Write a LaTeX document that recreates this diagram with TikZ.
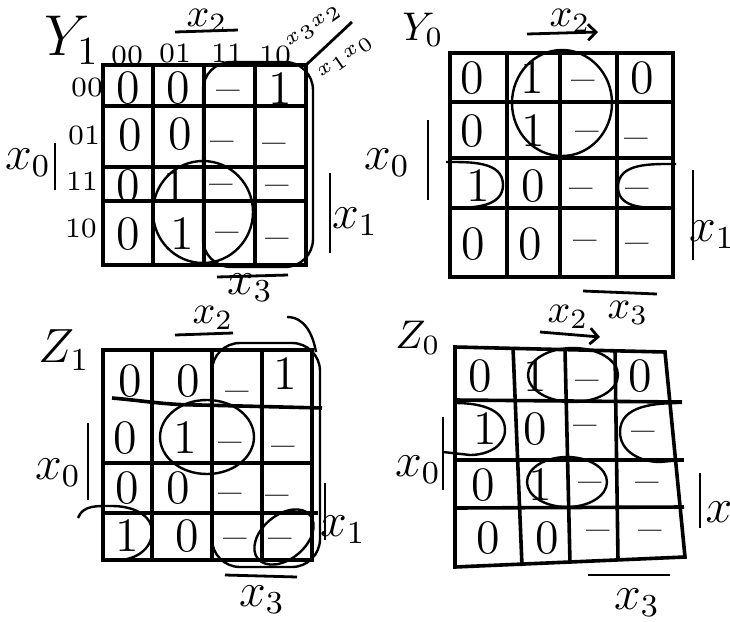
\documentclass[tikz,border=0pt]{standalone}
\usepackage{amsmath,amssymb}
\usepackage{tikz}
\usetikzlibrary{arrows.meta}

\begin{document}
\begin{tikzpicture}[x=0.25pt, y=-0.25pt,
    gridline/.style={line width=0.9pt},
    loopline/.style={line width=0.6pt},
    bar/.style={line width=0.7pt},
    entry/.style={font=\large, inner sep=0pt, text height=8pt, text depth=0pt},
    head/.style={font=\scriptsize, inner sep=0pt},
    varname/.style={font=\normalsize, inner sep=1pt}]

    \useasboundingbox (0,0) rectangle (730,622);

    % ---------------- map Y1 ----------------
    \node[varname, font=\Large] (y1name) at (72,40) {$Y_1$};

    % grid of Y1
    \draw[gridline] (103,65) rectangle (306,265);
    \draw[gridline] (153,65) -- (153,265);
    \draw[gridline] (204,65) -- (204,265);
    \draw[gridline] (255,65) -- (255,265);
    \draw[gridline] (103,106) -- (306,106);
    \draw[gridline] (103,167) -- (306,167);
    \draw[gridline] (103,201) -- (306,201);

    % column and row headers
    \node[head] (y1c0) at (127,55) {00};
    \node[head] (y1c1) at (175,53) {01};
    \node[head] (y1c2) at (227,53) {11};
    \node[head] (y1c3) at (275,55) {10};
    \node[head] (y1r0) at (87,87) {00};
    \node[head] (y1r1) at (84,135) {01};
    \node[head] (y1r2) at (82,181) {11};
    \node[head] (y1r3) at (81,228) {10};
    \draw[bar] (306,65) -- (352,22);
    \node[head, font=\tiny, rotate=35] (y1top) at (314,27) {$x_3x_2$};
    \node[head, font=\tiny, rotate=35] (y1side) at (346,58) {$x_1x_0$};

    % entries of Y1
    \node[entry] (y1e00) at (128,87) {0};
    \node[entry] (y1e01) at (178,87) {0};
    \node[entry] (y1e02) at (228,87) {--};
    \node[entry] (y1e03) at (280,88) {1};
    \node[entry] (y1e10) at (130,134) {0};
    \node[entry] (y1e11) at (180,133) {0};
    \node[entry] (y1e12) at (222,138) {--};
    \node[entry] (y1e13) at (274,140) {--};
    \node[entry] (y1e20) at (128,185) {0};
    \node[entry] (y1e21) at (175,186) {1};
    \node[entry] (y1e22) at (221,181) {--};
    \node[entry] (y1e23) at (277,182) {--};
    \node[entry] (y1e30) at (128,233) {0};
    \node[entry] (y1e31) at (182,233) {1};
    \node[entry] (y1e32) at (227,229) {--};
    \node[entry] (y1e33) at (277,235) {--};

    % loops of Y1
    \draw[loopline, rounded corners=7pt] (203,62) rectangle (313,267);
    \draw[loopline] (203,212) ellipse [x radius=50, y radius=51];

    % variables of Y1
    \node[varname] (y1x2) at (207,21) {$x_2$};
    \draw[bar] (175,32) -- (238,30);
    \node[varname, font=\large] (y1x0) at (28,163) {$x_0$};
    \draw[bar] (55,143) -- (55,190);
    \node[varname, font=\large] (y1x1) at (355,222) {$x_1$};
    \draw[bar] (330,173) -- (330,253);
    \node[varname, font=\large] (y1x3) at (250,288) {$x_3$};
    \draw[bar] (217,277) -- (288,275);

    % ---------------- map Y0 ----------------
    \node[varname] (y0name) at (423,30) {$Y_0$};

    % grid of Y0
    \draw[gridline] (450,53) rectangle (673,277);
    \draw[gridline] (507,53) -- (507,277);
    \draw[gridline] (560,53) -- (560,277);
    \draw[gridline] (617,53) -- (617,277);
    \draw[gridline] (450,102) -- (673,102);
    \draw[gridline] (450,158) -- (673,158);
    \draw[gridline] (450,208) -- (673,208);

    % entries of Y0
    \node[entry] (y0e00) at (472,77) {0};
    \node[entry] (y0e01) at (532,77) {1};
    \node[entry] (y0e02) at (583,77) {--};
    \node[entry] (y0e03) at (642,77) {0};
    \node[entry] (y0e10) at (472,130) {0};
    \node[entry] (y0e11) at (533,130) {1};
    \node[entry] (y0e12) at (587,128) {--};
    \node[entry] (y0e13) at (636,135) {--};
    \node[entry] (y0e20) at (478,185) {1};
    \node[entry] (y0e21) at (533,185) {0};
    \node[entry] (y0e22) at (581,185) {--};
    \node[entry] (y0e23) at (637,185) {--};
    \node[entry] (y0e30) at (473,243) {0};
    \node[entry] (y0e31) at (530,243) {0};
    \node[entry] (y0e32) at (585,237) {--};
    \node[entry] (y0e33) at (637,240) {--};

    % loops of Y0
    \draw[loopline] (562,103) ellipse [x radius=50, y radius=53];
    \draw[loopline] (446,162) to[out=0, in=90] (503,185) to[out=-90, in=0] (452,208);
    \draw[loopline] (676,164) to[out=180, in=90] (618,187) to[out=-90, in=180] (675,208);

    % variables of Y0
    \node[varname] (y0x2) at (570,21) {$x_2$};
    \draw[bar, -{Straight Barb[length=2pt]}] (527,34) -- (598,32);
    \node[varname, font=\large] (y0x0) at (387,163) {$x_0$};
    \draw[bar] (428,120) -- (428,200);
    \node[varname, font=\large] (y0x1) at (712,235) {$x_1$};
    \draw[bar] (693,170) -- (693,260);
    \node[varname] (y0x3) at (628,313) {$x_3$};
    \draw[bar] (583,291) -- (657,294);

    % ---------------- map Z1 ----------------
    \node[varname, font=\large] (z1name) at (64,350) {$Z_1$};

    % grid of Z1
    \draw[gridline] (103,350) rectangle (312,560);
    \draw[gridline] (152,350) -- (152,560);
    \draw[gridline] (212,350) -- (212,560);
    \draw[gridline] (262,350) -- (262,560);
    \draw[gridline] (112,398) to[out=-5, in=180] (200,405) -- (322,408);
    \draw[gridline] (103,463) -- (312,463);
    \draw[gridline] (103,513) -- (318,513);

    % entries of Z1
    \node[entry] (z1e00) at (130,380) {0};
    \node[entry] (z1e01) at (188,380) {0};
    \node[entry] (z1e02) at (237,388) {--};
    \node[entry] (z1e03) at (285,373) {1};
    \node[entry] (z1e10) at (125,437) {0};
    \node[entry] (z1e11) at (185,437) {1};
    \node[entry] (z1e12) at (230,439) {--};
    \node[entry] (z1e13) at (283,443) {--};
    \node[entry] (z1e20) at (127,487) {0};
    \node[entry] (z1e21) at (178,487) {0};
    \node[entry] (z1e22) at (230,490) {--};
    \node[entry] (z1e23) at (277,492) {--};
    \node[entry] (z1e30) at (127,535) {1};
    \node[entry] (z1e31) at (187,535) {0};
    \node[entry] (z1e32) at (235,535) {--};
    \node[entry] (z1e33) at (280,535) {--};

    % loops of Z1
    \draw[loopline, rounded corners=7pt] (212,343) rectangle (320,567);
    \draw[loopline] (287,317) to[out=0, in=100] (316,352);
    \draw[loopline] (207,437) ellipse [x radius=47, y radius=37];
    \draw[loopline] (78,518) to[out=70, in=180] (112,506) to[out=0, in=90] (152,532) to[out=-90, in=0] (118,560);
    \draw[loopline, rotate around={40:(284,537)}] (284,537) ellipse [x radius=34, y radius=22];

    % variables of Z1
    \node[varname] (z1x2) at (213,318) {$x_2$};
    \draw[bar] (175,335) -- (233,333);
    \node[varname, font=\large] (z1x0) at (58,473) {$x_0$};
    \draw[bar] (88,423) -- (88,500);
    \node[varname, font=\large] (z1x1) at (343,530) {$x_1$};
    \draw[bar] (325,483) -- (325,540);
    \node[varname, font=\large] (z1x3) at (262,600) {$x_3$};
    \draw[bar] (225,575) -- (297,577);

    % ---------------- map Z0 ----------------
    \node[varname] (z0name) at (418,338) {$Z_0$};

    % grid of Z0
    \draw[gridline] (455,347) -- (665,352) -- (685,557) -- (455,567) -- cycle;
    \draw[gridline] (513,347) -- (522,566);
    \draw[gridline] (565,349) -- (570,563);
    \draw[gridline] (615,350) -- (618,560);
    \draw[gridline] (455,400) -- (682,402);
    \draw[gridline] (455,460) -- (684,460);
    \draw[gridline] (455,508) -- (684,507);

    % entries of Z0
    \node[entry] (z0e00) at (480,375) {0};
    \node[entry] (z0e01) at (535,375) {1};
    \node[entry] (z0e02) at (587,377) {--};
    \node[entry] (z0e03) at (640,375) {0};
    \node[entry] (z0e10) at (485,428) {1};
    \node[entry] (z0e11) at (535,428) {0};
    \node[entry] (z0e12) at (585,422) {--};
    \node[entry] (z0e13) at (643,428) {--};
    \node[entry] (z0e20) at (483,484) {0};
    \node[entry] (z0e21) at (540,484) {1};
    \node[entry] (z0e22) at (590,479) {--};
    \node[entry] (z0e23) at (647,479) {--};
    \node[entry] (z0e30) at (488,537) {0};
    \node[entry] (z0e31) at (547,537) {0};
    \node[entry] (z0e32) at (598,527) {--};
    \node[entry] (z0e33) at (650,527) {--};

    % loops of Z0
    \draw[loopline] (573,375) ellipse [x radius=45, y radius=27];
    \draw[loopline] (455,403) to[out=0, in=90] (505,430) to[out=-90, in=0] (470,455) -- (443,452);
    \draw[loopline] (682,403) to[out=180, in=90] (620,432) to[out=-90, in=180] (660,462) -- (682,460);
    \draw[loopline] (567,482) ellipse [x radius=40, y radius=25];

    % variables of Z0
    \node[varname] (z0x2) at (568,317) {$x_2$};
    \draw[bar, -{Straight Barb[length=2pt]}] (540,332) -- (600,337);
    \node[varname, font=\large] (z0x0) at (418,470) {$x_0$};
    \draw[bar] (443,417) -- (443,490);
    \node[varname, font=\large] (z0x1) at (719,512) {$x$};
    \draw[bar] (700,473) -- (700,528);
    \node[varname, font=\large] (z0x3) at (637,603) {$x_3$};
    \draw[bar] (588,575) -- (670,575);

\end{tikzpicture}
\end{document}
